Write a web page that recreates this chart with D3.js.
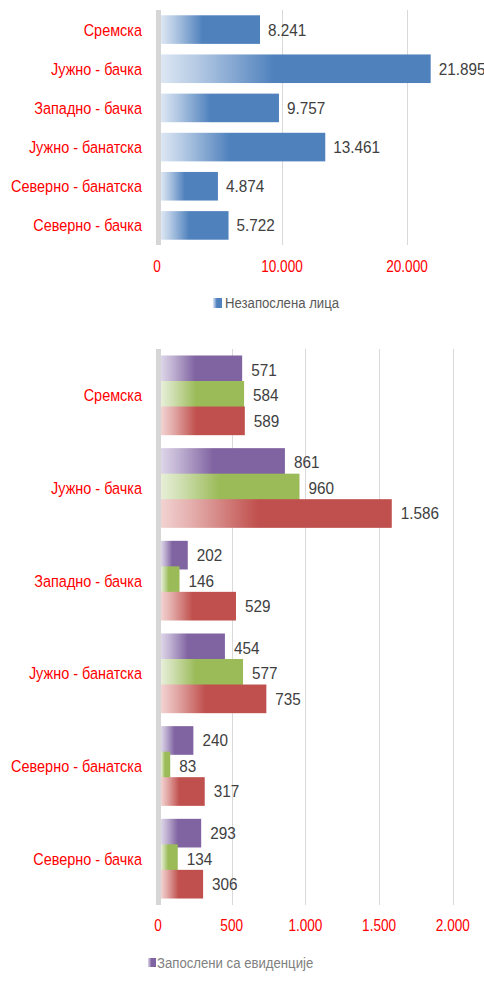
<!DOCTYPE html>
<html>
<head>
<meta charset="utf-8">
<script src="https://cdn.jsdelivr.net/npm/d3@7"></script>
<style>
  body { margin: 0; background: #fff; }
  svg text { font-family: "Liberation Sans", Arial, sans-serif; }
</style>
</head>
<body>
<svg id="chart" width="484" height="985"></svg>
<script>
// regions (same order for both charts)
const regions = ["Сремска", "Јужно - бачка", "Западно - бачка", "Јужно - банатска", "Северно - банатска", "Северно - бачка"];

// top chart: unemployed persons
const unemployed = [8241, 21895, 9757, 13461, 4874, 5722];
const topTicks = [0, 10000, 20000];
const topLegend = "Незапослена лица";

// bottom chart: three series per region
const series = ["Запослени са евиденције", "series2", "series3"];
const employedFromRegister = [571, 861, 202, 454, 240, 293];
const series2Values = [584, 960, 146, 577, 83, 134];
const series3Values = [589, 1586, 529, 735, 317, 306];
const bottomTicks = [0, 500, 1000, 1500, 2000];

const fmt = (v) => d3.format(",")(v).replace(/,/g, ".");

// the original uses a narrow font, so squeeze text horizontally
const place = (x, y, sx = 0.85) => `translate(${x},${y}) scale(${sx},1)`;

const svg = d3.select("#chart");
const defs = svg.append("defs");

// Excel-like left-to-right fade for bars
function addGradient(id, light, solid) {
  const g = defs.append("linearGradient").attr("id", id)
    .attr("x1", "0%").attr("x2", "100%").attr("y1", "0%").attr("y2", "0%");
  g.append("stop").attr("offset", "0%").attr("stop-color", light);
  g.append("stop").attr("offset", "14%").attr("stop-color", d3.interpolateRgb(light, solid)(0.3));
  g.append("stop").attr("offset", "42%").attr("stop-color", solid);
  g.append("stop").attr("offset", "100%").attr("stop-color", solid);
}
addGradient("g-blue", "#dde7f3", "#4f81bd");
addGradient("g-purple", "#ddd5e8", "#8064a2");
addGradient("g-green", "#e7efd8", "#9bbb59");
addGradient("g-red", "#f2d3d2", "#c0504d");

const gridColor = "#d9d9d9";
const axisColor = "#d6d6d6";
const labelColor = "#ff0000";
const valueColor = "#404040";

// ---------- Top chart ----------
const x1 = d3.scaleLinear().domain([0, 10000]).range([157, 282]);
const y1 = d3.scaleBand().domain(regions).range([10, 245]).paddingInner(0.27).paddingOuter(0.135);

const topG = svg.append("g");

topG.selectAll(".grid")
  .data(topTicks.filter((d) => d > 0))
  .enter().append("line")
  .attr("x1", (d) => Math.round(x1(d)) + 0.5).attr("x2", (d) => Math.round(x1(d)) + 0.5)
  .attr("y1", 10).attr("y2", 245)
  .attr("stroke", gridColor).attr("stroke-width", 1);

topG.selectAll(".bar")
  .data(unemployed)
  .enter().append("rect")
  .attr("x", 161)
  .attr("y", (d, i) => y1(regions[i]))
  .attr("width", (d) => x1(d) - 161)
  .attr("height", y1.bandwidth())
  .attr("fill", "url(#g-blue)");

topG.append("rect").attr("x", 156).attr("y", 10).attr("width", 5).attr("height", 235).attr("fill", axisColor);

topG.selectAll(".val")
  .data(unemployed)
  .enter().append("text")
  .attr("transform", (d, i) => place(x1(d) + 8, y1(regions[i]) + y1.bandwidth() / 2, 0.9))
  .attr("dy", "0.35em")
  .attr("font-size", 17)
  .attr("fill", valueColor)
  .text(fmt);

topG.selectAll(".cat")
  .data(regions)
  .enter().append("text")
  .attr("transform", (d) => place(142, y1(d) + y1.bandwidth() / 2))
  .attr("dy", "0.35em")
  .attr("text-anchor", "end")
  .attr("font-size", 17)
  .attr("fill", labelColor)
  .text((d) => d);

topG.selectAll(".tick")
  .data(topTicks)
  .enter().append("text")
  .attr("transform", (d) => place(x1(d), 266))
  .attr("dy", "0.35em")
  .attr("text-anchor", "middle")
  .attr("font-size", 16)
  .attr("fill", labelColor)
  .text(fmt);

topG.append("rect").attr("x", 213).attr("y", 298).attr("width", 9).attr("height", 10).attr("fill", "url(#g-blue)");
topG.append("text").attr("transform", place(225, 303)).attr("dy", "0.35em")
  .attr("font-size", 15.5).attr("fill", "#595959").text(topLegend);

// ---------- Bottom chart ----------
const x2 = d3.scaleLinear().domain([0, 500]).range([158, 231.7]);
const y2 = d3.scaleBand().domain(regions).range([349, 905]).paddingInner(0.14).paddingOuter(0.07);
const overlap = 0.11;
const barH = y2.bandwidth() / (3 - 2 * overlap);
const barStep = barH * (1 - overlap);

const bottomG = svg.append("g");

bottomG.selectAll(".grid")
  .data(bottomTicks.filter((d) => d > 0))
  .enter().append("line")
  .attr("x1", (d) => Math.round(x2(d)) + 0.5).attr("x2", (d) => Math.round(x2(d)) + 0.5)
  .attr("y1", 349).attr("y2", 905)
  .attr("stroke", gridColor).attr("stroke-width", 1);

const seriesData = [
  { key: series[0], values: employedFromRegister, fill: "url(#g-purple)" },
  { key: series[1], values: series2Values, fill: "url(#g-green)" },
  { key: series[2], values: series3Values, fill: "url(#g-red)" },
];

seriesData.forEach((s, si) => {
  bottomG.selectAll(".bar" + si)
    .data(s.values)
    .enter().append("rect")
    .attr("x", 161)
    .attr("y", (d, i) => y2(regions[i]) + si * barStep)
    .attr("width", (d) => x2(d) - 161)
    .attr("height", barH)
    .attr("fill", s.fill);
});

bottomG.append("rect").attr("x", 156).attr("y", 349).attr("width", 5).attr("height", 556).attr("fill", axisColor);

seriesData.forEach((s, si) => {
  bottomG.selectAll(".val" + si)
    .data(s.values)
    .enter().append("text")
    .attr("transform", (d, i) => place(x2(d) + 9, y2(regions[i]) + si * barStep + barH / 2, 0.9))
    .attr("dy", "0.35em")
    .attr("font-size", 17)
    .attr("fill", valueColor)
    .text(fmt);
});

bottomG.selectAll(".cat")
  .data(regions)
  .enter().append("text")
  .attr("transform", (d) => place(142, y2(d) + y2.bandwidth() / 2))
  .attr("dy", "0.35em")
  .attr("text-anchor", "end")
  .attr("font-size", 17)
  .attr("fill", labelColor)
  .text((d) => d);

bottomG.selectAll(".tick")
  .data(bottomTicks)
  .enter().append("text")
  .attr("transform", (d) => place(x2(d), 925))
  .attr("dy", "0.35em")
  .attr("text-anchor", "middle")
  .attr("font-size", 16)
  .attr("fill", labelColor)
  .text(fmt);

bottomG.append("rect").attr("x", 148).attr("y", 958).attr("width", 8).attr("height", 9).attr("fill", "url(#g-purple)");
bottomG.append("text").attr("transform", place(157, 963)).attr("dy", "0.35em")
  .attr("font-size", 15.5).attr("fill", "#808080").text(series[0]);
</script>
</body>
</html>
